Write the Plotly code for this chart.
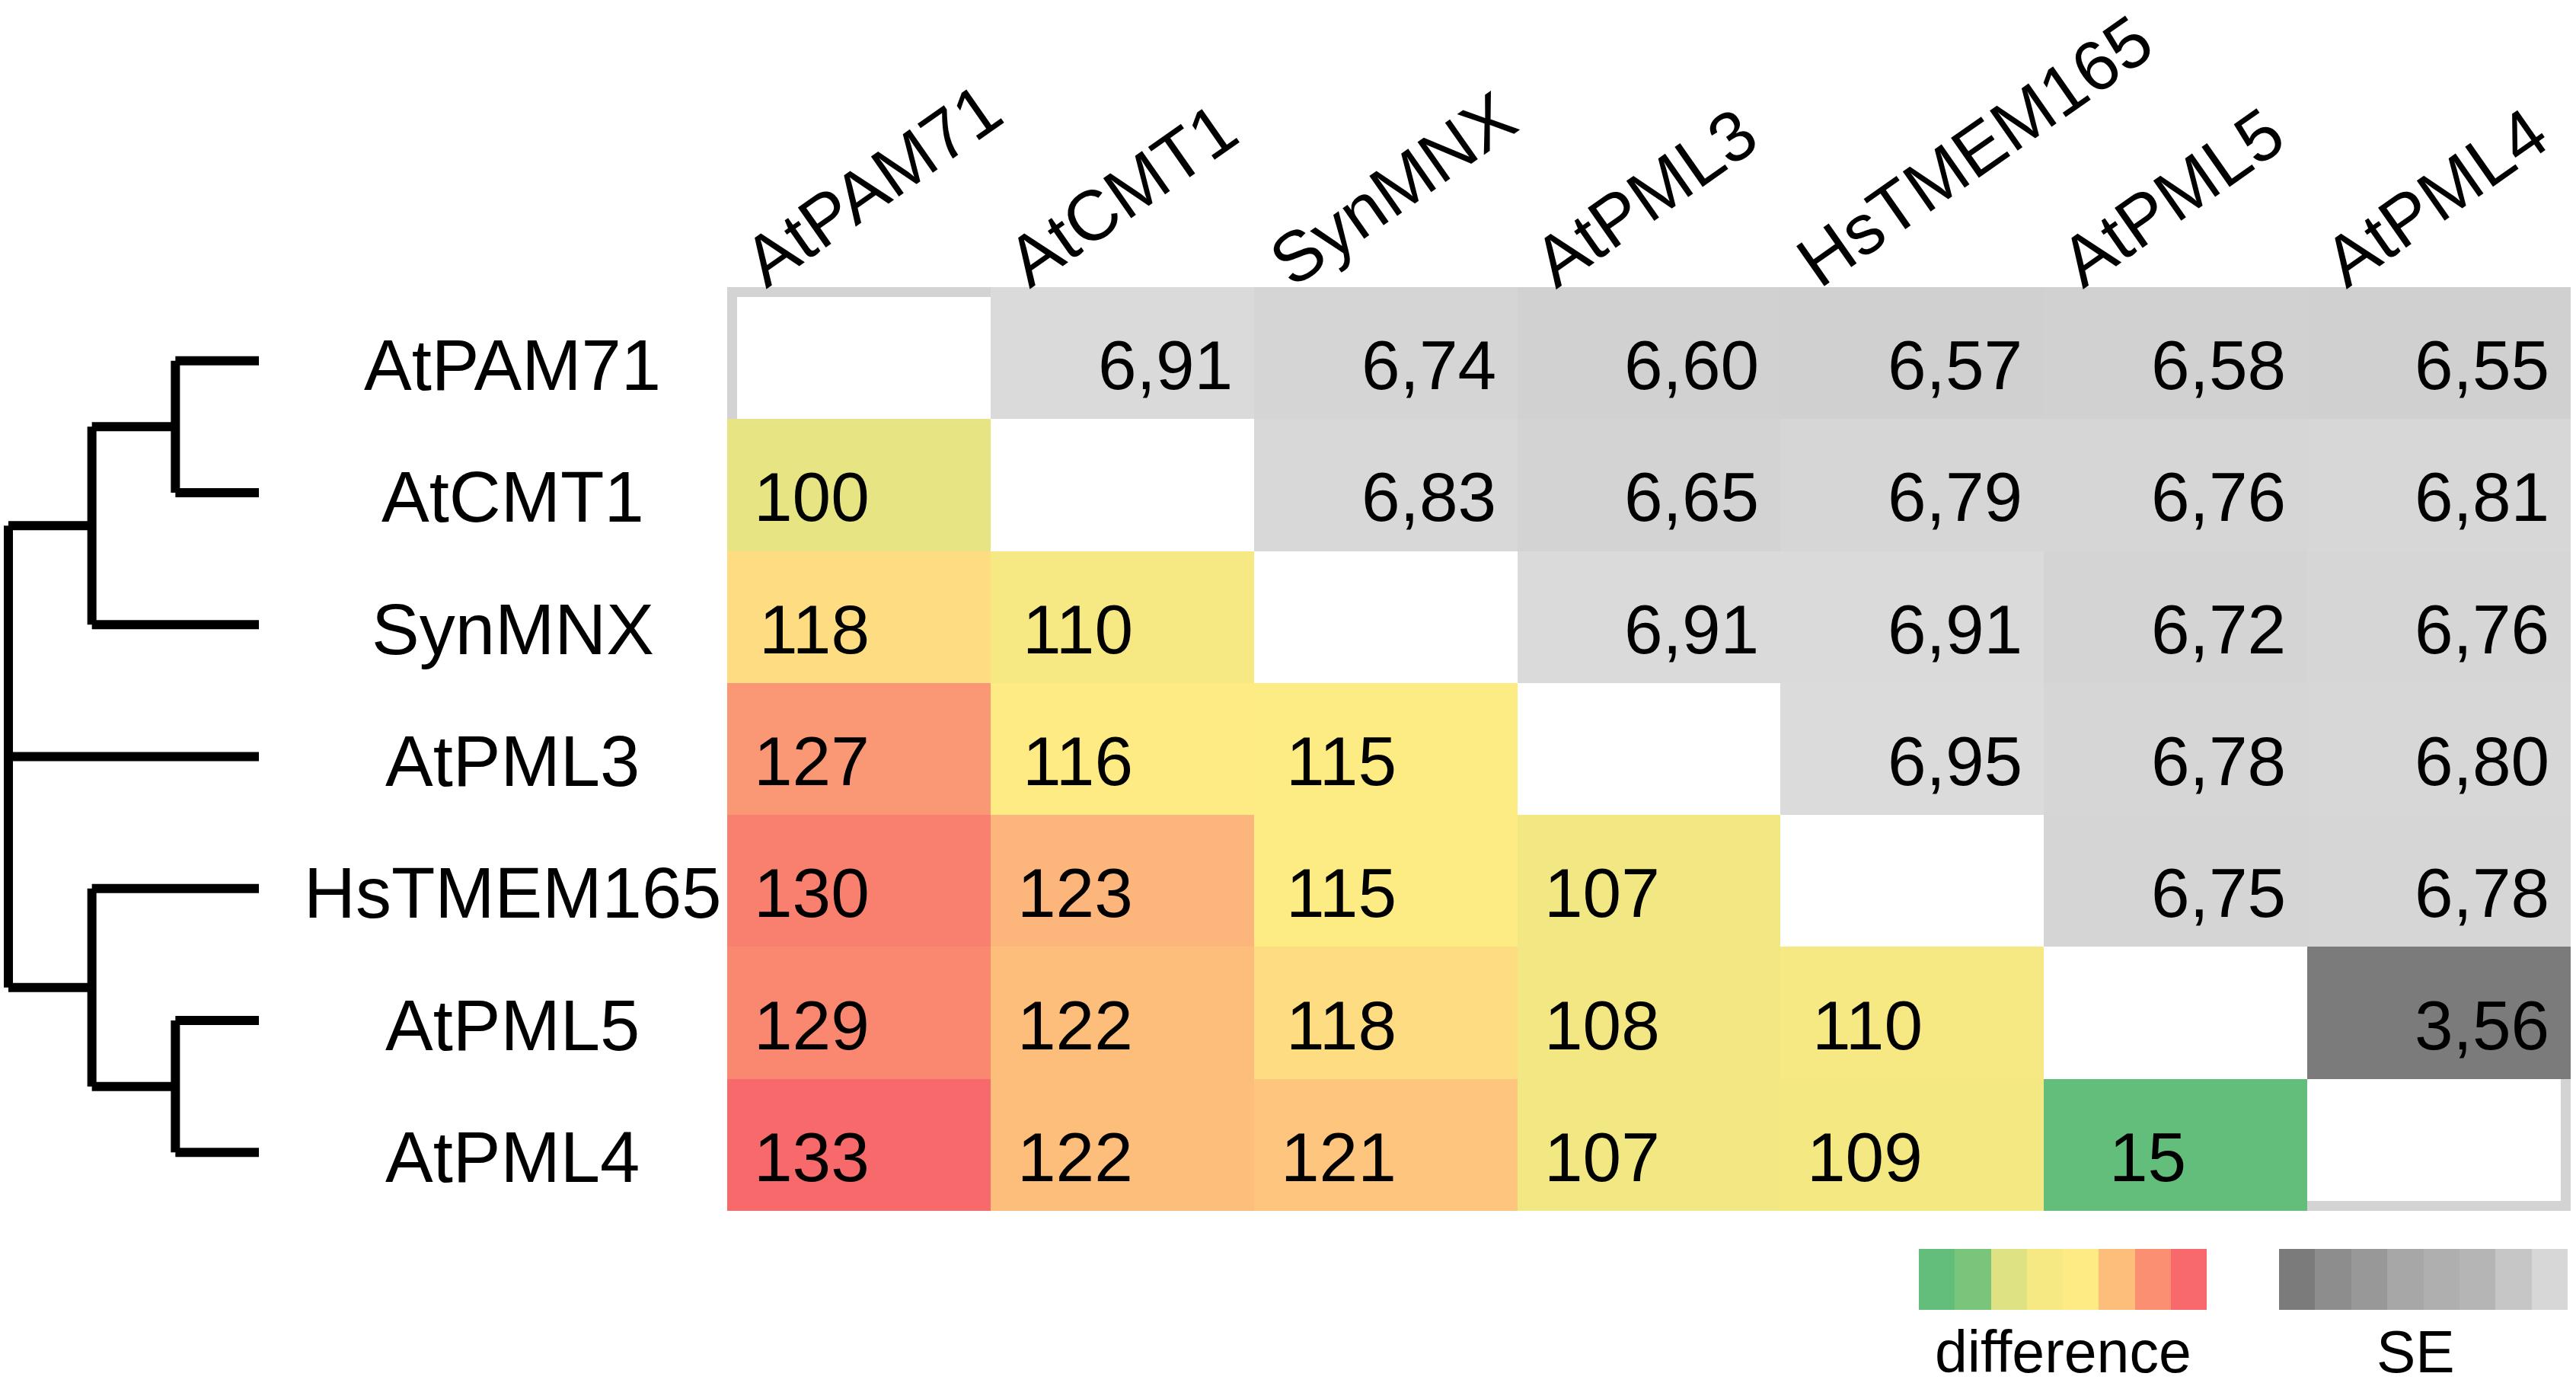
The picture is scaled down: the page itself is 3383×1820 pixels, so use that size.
import numpy as np
import plotly.graph_objects as go

# proteins, in tree order
proteins = ["AtPAM71", "AtCMT1", "SynMNX", "AtPML3", "HsTMEM165", "AtPML5", "AtPML4"]

# lower triangle: difference (row i, columns 0..i-1)
difference_rows = [
    [],
    [100],
    [118, 110],
    [127, 116, 115],
    [130, 123, 115, 107],
    [129, 122, 118, 108, 110],
    [133, 122, 121, 107, 109, 15],
]

# upper triangle: SE (row i, columns i+1..6)
se_rows = [
    [6.91, 6.74, 6.60, 6.57, 6.58, 6.55],
    [6.83, 6.65, 6.79, 6.76, 6.81],
    [6.91, 6.91, 6.72, 6.76],
    [6.95, 6.78, 6.80],
    [6.75, 6.78],
    [3.56],
    [],
]

# tree topology (nested lists, leaves are names)
tree = [[["AtPAM71", "AtCMT1"], "SynMNX"], "AtPML3", ["HsTMEM165", ["AtPML5", "AtPML4"]]]

# legend swatches
difference_legend = [15, 30, 95, 110, 116, 122, 128, 133]
se_legend = [3.56, 4.2, 4.6, 5.1, 5.4, 5.6, 6.2, 6.8]

FONT = "Liberation Sans, Arial, sans-serif"
W, H = 3383, 1820
GRID_L, GRID_R, GRID_T, GRID_B = 955, 3376, 377, 1590

n = len(proteins)
diff = np.full((n, n), np.nan)
se = np.full((n, n), np.nan)
for i, row in enumerate(difference_rows):
    for j, v in enumerate(row):
        diff[i, j] = v
for i, row in enumerate(se_rows):
    for k, v in enumerate(row):
        se[i, i + 1 + k] = v

# excel style 3-colour scale, midpoint at the median
diff_vals = diff[~np.isnan(diff)]
d_min, d_max = diff_vals.min(), diff_vals.max()
d_mid = np.percentile(diff_vals, 50)
diff_scale = [[0, "#63BE7B"], [(d_mid - d_min) / (d_max - d_min), "#FFEB84"], [1, "#F8696B"]]
se_vals = se[~np.isnan(se)]
s_min, s_max = se_vals.min(), se_vals.max()
se_scale = [[0, "#7B7B7B"], [1, "#DBDBDB"]]

fig = go.Figure()
fig.add_trace(go.Heatmap(z=diff, x=list(range(n)), y=list(range(n)), colorscale=diff_scale,
                         zmin=d_min, zmax=d_max, showscale=False, hoverinfo="skip"))
fig.add_trace(go.Heatmap(z=se, x=list(range(n)), y=list(range(n)), colorscale=se_scale,
                         zmin=s_min, zmax=s_max, showscale=False, hoverinfo="skip"))

# dendrogram
pos = {name: i for i, name in enumerate(proteins)}
xs, ys = [], []
LEAF_X = 3


def draw(node, depth):
    if isinstance(node, str):
        return LEAF_X, pos[node]
    kids = [draw(c, depth + 1) for c in node]
    top, bot = kids[0][1], kids[-1][1]
    xs.extend([depth, depth, None])
    ys.extend([top, bot, None])
    for kx, ky in kids:
        xs.extend([depth, kx, None])
        ys.extend([ky, ky, None])
    return depth, (top + bot) / 2


draw(tree, 0)
fig.add_trace(go.Scatter(x=xs, y=ys, mode="lines", line=dict(color="black", width=12),
                         xaxis="x2", yaxis="y2", hoverinfo="skip"))

# legend bars
fig.add_trace(go.Heatmap(z=[difference_legend], colorscale=diff_scale, zmin=d_min, zmax=d_max,
                         showscale=False, xaxis="x3", yaxis="y3", hoverinfo="skip"))
fig.add_trace(go.Heatmap(z=[se_legend], colorscale=se_scale, zmin=s_min, zmax=s_max,
                         showscale=False, xaxis="x4", yaxis="y4", hoverinfo="skip"))

annotations = []
for i in range(n):
    for j in range(n):
        if not np.isnan(diff[i, j]):
            annotations.append(dict(x=j, y=i, xref="x", yref="y", text=f"{int(diff[i, j])}",
                                    xanchor="right", xshift=16, yshift=-16, showarrow=False,
                                    font=dict(size=91, family=FONT, color="black")))
        if not np.isnan(se[i, j]):
            annotations.append(dict(x=j + 0.5, y=i, xref="x", yref="y",
                                    text=f"{se[i, j]:.2f}".replace(".", ","),
                                    xanchor="right", xshift=-26, yshift=-16, showarrow=False,
                                    font=dict(size=91, family=FONT, color="black")))

for i, name in enumerate(proteins):
    annotations.append(dict(x=673 / W, y=i, xref="paper", yref="y", text=name, xanchor="center",
                            yanchor="middle", yshift=-16, showarrow=False,
                            font=dict(size=94, family=FONT, color="black")))
    annotations.append(dict(x=i - 0.5, y=1 - GRID_T / H, xref="x", yref="paper", text=name,
                            textangle=-35, xanchor="left", yanchor="bottom", yshift=-22, xshift=0,
                            showarrow=False, font=dict(size=93, family=FONT, color="black")))

annotations.append(dict(x=2709 / W, y=0, xref="paper", yref="paper", text="difference",
                        xanchor="center", yanchor="bottom", showarrow=False,
                        font=dict(size=77, family=FONT, color="black")))
annotations.append(dict(x=3172 / W, y=0, xref="paper", yref="paper", text="SE",
                        xanchor="center", yanchor="bottom", showarrow=False,
                        font=dict(size=77, family=FONT, color="black")))

# grey frame around the matrix, visible where cells are empty
inset = 6.5
fig.add_shape(type="rect", xref="paper", yref="paper", layer="below",
              x0=(GRID_L + inset) / W, x1=(GRID_R - inset) / W,
              y0=1 - (GRID_B - inset) / H, y1=1 - (GRID_T + inset) / H,
              line=dict(color="#D3D3D3", width=13))

# dendrogram axis: root at 11 px, leaves end at 340 px, with room so thick lines are not clipped
ROOT_PX, LEAF_PX = 11, 340
unit = (LEAF_PX - ROOT_PX) / LEAF_X
x2_range = [-ROOT_PX / unit, LEAF_X]

hidden = dict(visible=False, showgrid=False, zeroline=False)
fig.update_layout(
    width=W, height=H, margin=dict(l=0, r=0, t=0, b=0),
    paper_bgcolor="white", plot_bgcolor="white", showlegend=False,
    xaxis=dict(domain=[GRID_L / W, GRID_R / W], range=[-0.5, n - 0.5], **hidden),
    yaxis=dict(domain=[1 - GRID_B / H, 1 - GRID_T / H], range=[n - 0.5, -0.5], **hidden),
    xaxis2=dict(domain=[0, LEAF_PX / W], range=x2_range, anchor="y2", **hidden),
    yaxis2=dict(domain=[1 - (GRID_B + 10) / H, 1 - (GRID_T + 10) / H], range=[n - 0.5, -0.5],
                anchor="x2", **hidden),
    xaxis3=dict(domain=[2520 / W, 2898 / W], anchor="y3", **hidden),
    yaxis3=dict(domain=[1 - 1720 / H, 1 - 1640 / H], anchor="x3", **hidden),
    xaxis4=dict(domain=[2993 / W, 3372 / W], anchor="y4", **hidden),
    yaxis4=dict(domain=[1 - 1720 / H, 1 - 1640 / H], anchor="x4", **hidden),
    annotations=annotations,
)

# drop the default page margin so the figure sits at the window corner
fig.write_html("out.html", config={"displayModeBar": False},
               post_script="document.body.style.margin='0';")
